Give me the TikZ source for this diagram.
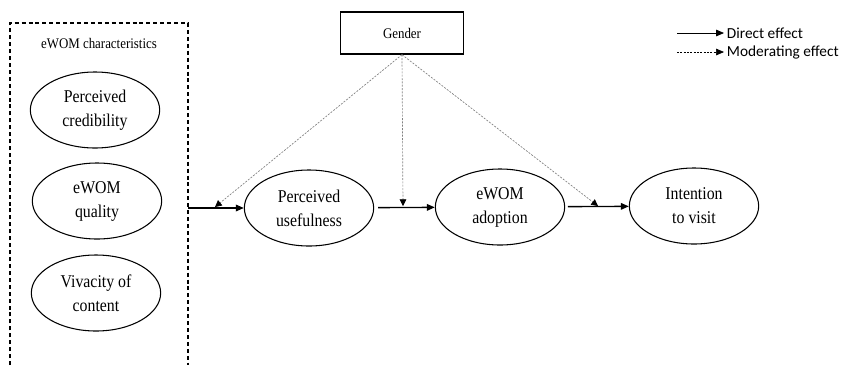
\documentclass[tikz,border=0pt]{standalone}
\usepackage{fontspec}
\usepackage{tikz}
\usetikzlibrary{shapes.geometric}
\usetikzlibrary{arrows.meta}
\setmainfont{Liberation Serif}[FakeStretch=0.88]
\newfontfamily\legfont{Carlito}

\begin{document}
\begin{tikzpicture}[x=0.75pt,y=-0.75pt]
    \useasboundingbox (0,0) rectangle (845,365);

    \tikzstyle{every node}=[draw,ellipse,line width=0.8pt,minimum width=97pt,minimum height=57pt,inner sep=0pt,align=center,font=\fontsize{13.5}{18}\selectfont]
    \node(cred) at (95,110){Perceived\\credibility};
    \node(qual) at (97,201){eWOM\\quality};
    \node(viv) at (96,293){Vivacity of\\content};

    \node(useful) at (309,208){Perceived\\usefulness};
    \node(adopt) at (500,207){eWOM\\adoption};
    \node(intent) at (694,206){Intention\\to visit};

    \tikzstyle{every node}=[]
    \tikzstyle{direct}=[line width=1pt,-{Triangle[length=6pt,width=5pt]}]
    \tikzstyle{moder}=[gray,line width=0.5pt,dash pattern=on 1.5pt off 1pt,-{Triangle[length=5pt,width=5pt,black]}]

    % eWOM characteristics box (open at the bottom)
    \draw[line width=0.8pt,dash pattern=on 3pt off 2.2pt] (10,365)--(10,23)--(188,23)--(188,365);
    \node(chars) at (99,44){\fontsize{11}{13}\selectfont eWOM characteristics};
    \coordinate (boxout) at (188,208);

    \node[draw,line width=1pt,minimum width=92pt,minimum height=31.5pt,font=\fontsize{11}{13}\selectfont](gender) at (402,33){Gender};

    % direct effects
    \draw[direct] (boxout)--(useful);
    \draw[direct,shorten <=3pt] (useful)--(adopt);
    \draw[direct,shorten <=2pt] (adopt)--(intent);

    % moderating effects
    \coordinate (m1) at (215,207);
    \coordinate (m2) at (403,206);
    \coordinate (m3) at (598,206);
    \draw[moder] (gender.south)--(m1);
    \draw[moder] (gender.south)--(m2);
    \draw[moder] (gender.south)--(m3);

    % legend
    \node[anchor=west,inner sep=2pt,font=\legfont\fontsize{11.5}{13}\selectfont](ldirect) at (724,33){Direct effect};
    \node[anchor=west,inner sep=2pt,font=\legfont\fontsize{11.5}{13}\selectfont](lmoder) at (724,52){Moderating effect};
    \coordinate (ld) at (677,33);
    \coordinate (lm) at (677,52);
    \draw[line width=0.6pt,-{Triangle[length=6pt,width=5pt]}] (ld)--(ldirect.west);
    \draw[line width=0.5pt,dash pattern=on 1.5pt off 1pt,-{Triangle[length=6pt,width=5pt]}] (lm)--(lmoder.west);

\end{tikzpicture}
\end{document}
